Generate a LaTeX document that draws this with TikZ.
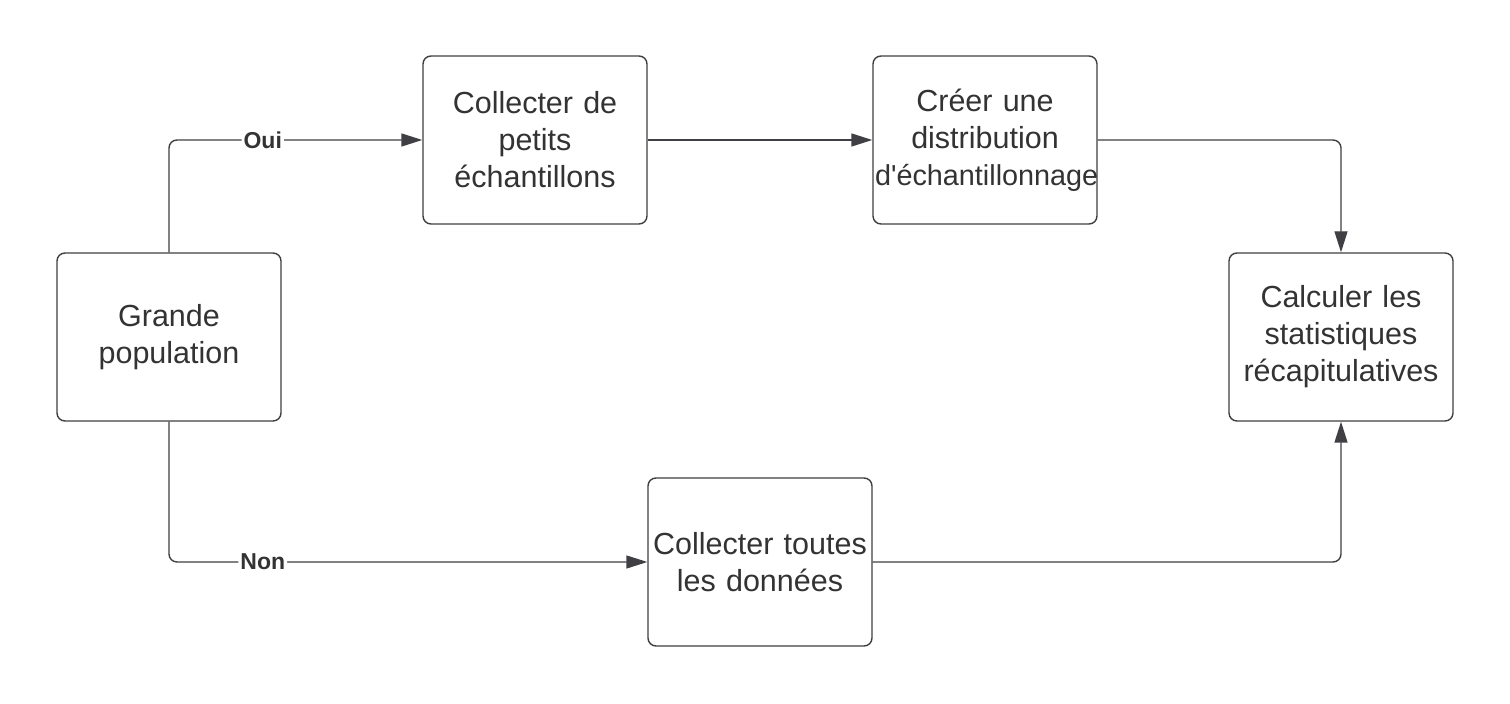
\documentclass[tikz,border=0pt]{standalone}
\usepackage{fontspec}
\setmainfont{Liberation Sans}
\usetikzlibrary{arrows.meta}

\definecolor{inkgray}{HTML}{333333}
\definecolor{linegray}{HTML}{3F3F44}

\tikzset{
  stepbox/.style={draw=linegray,line width=0.7pt,rounded corners=4pt,
    text width=110pt,minimum height=84pt,align=center,inner sep=1pt,
    text=inkgray,font=\fontsize{15.25}{18.5}\selectfont},
  flow/.style={draw=linegray,line width=0.7pt,rounded corners=4pt,
    -{Triangle[length=10.5pt,width=6.5pt]}},
  answer/.style={fill=white,inner sep=1pt,text=inkgray,
    font=\bfseries\fontsize{11.5}{13}\selectfont}
}

\begin{document}
\begin{tikzpicture}[x=0.5pt,y=-0.5pt]

\useasboundingbox[fill=white] (0,0) rectangle (1510,704);

% the five steps
\node[stepbox] (pop)  at (169,337)  {Grande\\population};
\node[stepbox] (ech)  at (535,140)  {Collecter de\\petits\\échantillons};
\node[stepbox] (dist) at (985,140)  {Créer une\\distribution\\{\fontsize{14.4}{18.5}\selectfont d\textquotesingle échantillonnage}};
\node[stepbox] (calc) at (1341,337) {Calculer les\\statistiques\\récapitulatives};
\node[stepbox] (tout) at (760,562)  {Collecter toutes\\les données};

% connectors
\draw[flow] (pop.north) |- node[answer,pos=0.685] {Oui} (ech.west);
\draw[flow] (pop.south) |- node[answer,pos=0.598] {Non} (tout.west);
\draw[flow] (ech.east) -- (dist.west);
\draw[flow] (dist.east) -| (calc.north);
\draw[flow] (tout.east) -| (calc.south);

\end{tikzpicture}
\end{document}
